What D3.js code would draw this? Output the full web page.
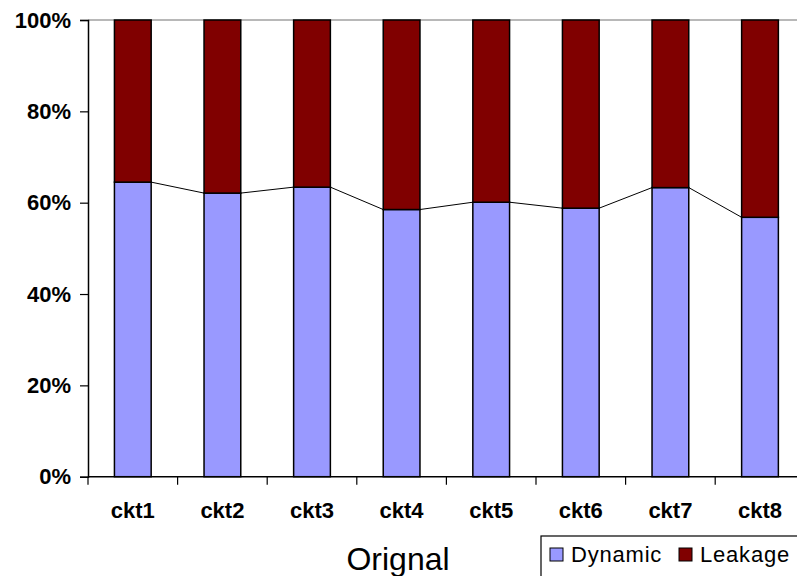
<!DOCTYPE html>
<html>
<head>
<meta charset="utf-8">
<script src="https://cdn.jsdelivr.net/npm/d3@7"></script>
<style>
  body { margin: 0; background: #fff; }
  svg { display: block; }
</style>
</head>
<body>
<div id="chart"></div>
<script>
var circuits = ["ckt1", "ckt2", "ckt3", "ckt4", "ckt5", "ckt6", "ckt7", "ckt8"];
var dynamic = [64.5, 62.1, 63.4, 58.5, 60.1, 58.8, 63.3, 56.8];
var leakage = [35.5, 37.9, 36.6, 41.5, 39.9, 41.2, 36.7, 43.2];
var yTicks = [0, 20, 40, 60, 80, 100];
var seriesNames = ["Dynamic", "Leakage"];
var seriesColors = ["#9999ff", "#800000"];
var title = "Orignal";

(function() {
  var width = 797, height = 576;
  var plotLeft = 88, plotTop = 20, plotBottom = 476.7, step = 89.6;

  var svg = d3.select("#chart").append("svg")
    .attr("width", width)
    .attr("height", height);

  var rows = circuits.map(function(c, i) {
    return { ckt: c, Dynamic: dynamic[i], Leakage: leakage[i] };
  });
  var stacked = d3.stack().keys(seriesNames)
    .offset(d3.stackOffsetExpand)(rows);

  var x = d3.scaleBand().domain(circuits)
    .range([plotLeft, plotLeft + step * circuits.length])
    .paddingInner(0.59).paddingOuter(0.295);
  var y = d3.scaleLinear().domain([0, 1]).range([plotBottom, plotTop]);

  // top line of plot area
  svg.append("line")
    .attr("x1", plotLeft).attr("x2", width)
    .attr("y1", y(1)).attr("y2", y(1))
    .attr("stroke", "#a0a0a0").attr("stroke-width", 1.5);

  // bars
  svg.selectAll("g.series")
    .data(stacked)
    .enter().append("g")
    .attr("class", "series")
    .attr("fill", function(d, i) { return seriesColors[i]; })
    .selectAll("rect")
    .data(function(d) { return d; })
    .enter().append("rect")
    .attr("x", function(d) { return x(d.data.ckt); })
    .attr("width", x.bandwidth())
    .attr("y", function(d) { return y(d[1]); })
    .attr("height", function(d) { return y(d[0]) - y(d[1]); })
    .attr("stroke", "#000")
    .attr("stroke-width", 1.5);

  // series lines between dynamic tops
  var dyn = stacked[0];
  svg.selectAll("line.serline")
    .data(dyn.slice(0, -1))
    .enter().append("line")
    .attr("class", "serline")
    .attr("x1", function(d) { return x(d.data.ckt) + x.bandwidth(); })
    .attr("y1", function(d) { return y(d[1]); })
    .attr("x2", function(d, i) { return x(dyn[i + 1].data.ckt); })
    .attr("y2", function(d, i) { return y(dyn[i + 1][1]); })
    .attr("stroke", "#000")
    .attr("stroke-width", 1);

  // y axis
  var yAxis = svg.append("g")
    .attr("transform", "translate(" + plotLeft + ",0)")
    .call(d3.axisLeft(y)
      .tickValues(yTicks.map(function(t) { return t / 100; }))
      .tickFormat(function(d) { return Math.round(d * 100) + "%"; })
      .tickSize(8).tickPadding(9));
  yAxis.select(".domain").attr("stroke", "#000").attr("stroke-width", 1.5);
  yAxis.selectAll(".tick line").attr("stroke", "#000").attr("stroke-width", 1.2);
  yAxis.selectAll("text")
    .attr("font-family", "Liberation Sans, Arial, sans-serif")
    .attr("font-size", 22).attr("font-weight", "bold").attr("fill", "#000");

  // x axis
  var xAxis = svg.append("g")
    .attr("transform", "translate(0," + plotBottom + ")");
  xAxis.append("line")
    .attr("x1", plotLeft).attr("x2", width)
    .attr("stroke", "#000").attr("stroke-width", 1.5);
  var edges = d3.range(circuits.length + 1).map(function(i) { return plotLeft + i * step; });
  xAxis.selectAll("line.tk")
    .data(edges)
    .enter().append("line")
    .attr("class", "tk")
    .attr("x1", function(d) { return d; }).attr("x2", function(d) { return d; })
    .attr("y1", 0).attr("y2", 8)
    .attr("stroke", "#000").attr("stroke-width", 1.2);
  xAxis.selectAll("text")
    .data(circuits)
    .enter().append("text")
    .attr("x", function(d) { return x(d) + x.bandwidth() / 2; })
    .attr("y", 41.5)
    .attr("text-anchor", "middle")
    .attr("font-family", "Liberation Sans, Arial, sans-serif")
    .attr("font-size", 22).attr("font-weight", "bold")
    .text(function(d) { return d; });

  // title under the axis
  svg.append("text")
    .attr("x", 398).attr("y", 570)
    .attr("text-anchor", "middle")
    .attr("font-family", "Liberation Sans, Arial, sans-serif")
    .attr("font-size", 32)
    .text(title);

  // legend
  var legend = svg.append("g").attr("transform", "translate(541,536)");
  legend.append("rect")
    .attr("x", 0).attr("y", 0).attr("width", 270).attr("height", 60)
    .attr("fill", "#fff").attr("stroke", "#000").attr("stroke-width", 1.2);
  var items = legend.selectAll("g.item")
    .data(seriesNames)
    .enter().append("g")
    .attr("class", "item")
    .attr("transform", function(d, i) { return "translate(" + (9 + i * 129) + ",0)"; });
  items.append("rect")
    .attr("x", 0).attr("y", 12).attr("width", 13).attr("height", 13)
    .attr("fill", function(d, i) { return seriesColors[i]; })
    .attr("stroke", "#000").attr("stroke-width", 1);
  items.append("text")
    .attr("x", 21).attr("y", 26)
    .attr("font-family", "Liberation Sans, Arial, sans-serif")
    .attr("font-size", 22).attr("letter-spacing", 0.8)
    .text(function(d) { return d; });
})();
</script>
</body>
</html>
